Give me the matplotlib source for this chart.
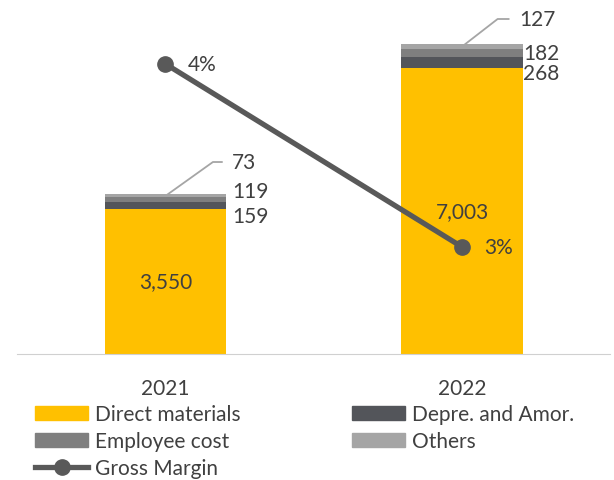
import numpy as np
import matplotlib.pyplot as plt
from matplotlib.patches import Patch
from matplotlib.lines import Line2D

plt.rcParams['font.family'] = ['Lato', 'DejaVu Sans']

years = ['2021', '2022']
direct_materials = [3550, 7003]
depre_amor = [159, 268]
employee_cost = [119, 182]
others = [73, 127]
gross_margin = [4, 3]   # %

c_yellow = '#FFC000'
c_dark = '#53555A'
c_mid = '#7F7F7F'
c_light = '#A5A5A5'
c_line = '#595959'
c_text = '#404040'
fs = 15

fig = plt.figure(figsize=(6.14, 4.81), dpi=100)
ax = fig.add_axes([0.028, 0.262, 0.966, 0.738])
x = np.arange(len(years))

# stacked cost bars
bottom = np.zeros(len(years))
stacks = [(direct_materials, c_yellow), (depre_amor, c_dark),
          (employee_cost, c_mid), (others, c_light)]
for vals, col in stacks:
    ax.bar(x, vals, 0.41, bottom=bottom, color=col, zorder=2)
    bottom += np.array(vals)
totals = bottom

ax.set_xlim(-0.5, 1.5)
ax.set_ylim(0, 8680)
ax.set_yticks([])
for s in ['top', 'right', 'left']:
    ax.spines[s].set_visible(False)
ax.spines['bottom'].set_color('#D0D0D0')
ax.set_xticks(x)
ax.set_xticklabels(years, fontsize=fs, color=c_text)
ax.tick_params(axis='x', length=0, pad=17)

# value labels inside the yellow segment
for i in range(2):
    ax.text(x[i], direct_materials[i] / 2, f'{direct_materials[i]:,}', ha='center', va='center',
            fontsize=fs, color=c_text, zorder=5)

# small segment labels, stacked to the right of each bar
lab_dx = [0.226, 0.205]
depre_y = [3374, 6870]
emp_y = [3985, 7360]
oth_y = [4694, 8191]
lead = [(0.16, 0.19), (0.12, 0.157)]
for i in range(2):
    ax.text(x[i] + lab_dx[i], depre_y[i], f'{depre_amor[i]}', ha='left', va='center',
            fontsize=fs, color=c_text)
    ax.text(x[i] + lab_dx[i], emp_y[i], f'{employee_cost[i]}', ha='left', va='center',
            fontsize=fs, color=c_text)
    ax.plot([x[i], x[i] + lead[i][0], x[i] + lead[i][1]],
            [totals[i] - others[i] / 2, oth_y[i], oth_y[i]], color=c_light, lw=1.3, zorder=3)
    ax.text(x[i] + lead[i][1] + 0.035, oth_y[i], f'{others[i]}', ha='left', va='center',
            fontsize=fs, color=c_text)

# gross margin on secondary axis
ax2 = ax.twinx()
ax2.set_ylim(2.415, 4.355)
ax2.set_yticks([])
for s in ax2.spines.values():
    s.set_visible(False)
ax2.plot(x, gross_margin, color=c_line, lw=3.8, marker='o', ms=11, zorder=4)
for i, v in enumerate(gross_margin):
    ax2.text(x[i] + 0.075, v, f'{v}%', ha='left', va='center', fontsize=fs, color=c_text)

handles = [Patch(color=c_yellow), Patch(color=c_mid),
           Line2D([], [], color=c_line, lw=3.8, marker='o', ms=11),
           Patch(color=c_dark), Patch(color=c_light)]
labels = ['Direct materials', 'Employee cost', 'Gross Margin', 'Depre. and Amor.', 'Others']
fig.legend(handles, labels, ncol=2, loc='upper left', bbox_to_anchor=(0.057, 0.157),
           frameon=False, fontsize=fs, labelcolor=c_text, handlelength=2.55, handleheight=0.63,
           handletextpad=0.33, labelspacing=0.32, columnspacing=5.34, borderpad=0, borderaxespad=0)

fig.savefig('out.png', dpi=100)
